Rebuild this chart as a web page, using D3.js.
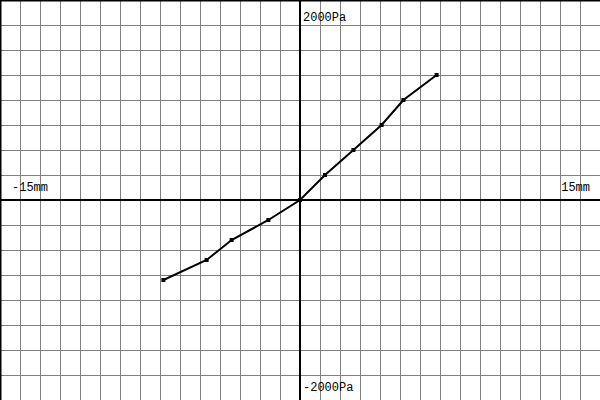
<!DOCTYPE html>
<html><head><meta charset="utf-8">
<script src="https://cdn.jsdelivr.net/npm/d3@7"></script>
<style>html,body{margin:0;padding:0;background:#fff;}svg{display:block;}</style>
</head><body>
<svg id="chart" width="600" height="400"></svg>
<script>
const xValues = [-6.83, -4.67, -3.42, -1.58, 0, 1.25, 2.67, 4.08, 5.17, 6.83];
const yValues = [-800, -600, -400, -200, 0, 250, 500, 750, 1000, 1250];
const xDomain = [-15, 15];
const yDomain = [-2000, 2000];
const xLabels = ["-15mm", "15mm"];
const yLabels = ["2000Pa", "-2000Pa"];

const W = 600, H = 400;
const svg = d3.select("#chart");
const x = d3.scaleLinear().domain(xDomain).range([0, W]);
const y = d3.scaleLinear().domain(yDomain).range([H, 0]);

const g = svg.append("g");
// grid
g.selectAll("line.vx").data(d3.range(-14, 15, 1)).join("line")
  .attr("x1", d => x(d)).attr("x2", d => x(d)).attr("y1", 0).attr("y2", H)
  .attr("stroke", "#808080").attr("stroke-width", 1).attr("shape-rendering", "crispEdges");
g.selectAll("line.hy").data(d3.range(-1750, 2000, 250)).join("line")
  .attr("y1", d => y(d)).attr("y2", d => y(d)).attr("x1", 0).attr("x2", W)
  .attr("stroke", "#808080").attr("stroke-width", 1).attr("shape-rendering", "crispEdges");

// borders
svg.append("line").attr("x1", 0).attr("x2", 0).attr("y1", 0).attr("y2", H).attr("stroke", "#000").attr("stroke-width", 3);
svg.append("line").attr("x1", 0).attr("x2", W).attr("y1", 0).attr("y2", 0).attr("stroke", "#000").attr("stroke-width", 3);

// axes
svg.append("line").attr("x1", x(0)).attr("x2", x(0)).attr("y1", 0).attr("y2", H)
  .attr("stroke", "#000").attr("stroke-width", 2);
svg.append("line").attr("y1", y(0)).attr("y2", y(0)).attr("x1", 0).attr("x2", W)
  .attr("stroke", "#000").attr("stroke-width", 2);

// data line
const pts = xValues.map((v, i) => [v, yValues[i]]);
svg.append("path").datum(pts)
  .attr("d", d3.line().x(d => x(d[0])).y(d => y(d[1])))
  .attr("fill", "none").attr("stroke", "#000").attr("stroke-width", 2);
svg.selectAll("rect.pt").data(pts).join("rect")
  .attr("x", d => x(d[0]) - 2).attr("y", d => y(d[1]) - 2)
  .attr("width", 4).attr("height", 4).attr("fill", "#000");

// labels
const font = "'Liberation Mono', monospace";
svg.append("text").attr("x", x(0) + 3).attr("y", 21).text(yLabels[0])
  .attr("font-family", font).attr("font-size", 12).attr("fill", "#000");
svg.append("text").attr("x", x(0) + 3).attr("y", 391).text(yLabels[1])
  .attr("font-family", font).attr("font-size", 12).attr("fill", "#000");
svg.append("text").attr("x", 12).attr("y", y(0) - 9).text(xLabels[0])
  .attr("font-family", font).attr("font-size", 12).attr("fill", "#000");
svg.append("text").attr("x", 590).attr("y", y(0) - 9).attr("text-anchor", "end").text(xLabels[1])
  .attr("font-family", font).attr("font-size", 12).attr("fill", "#000");
</script>
</body></html>
